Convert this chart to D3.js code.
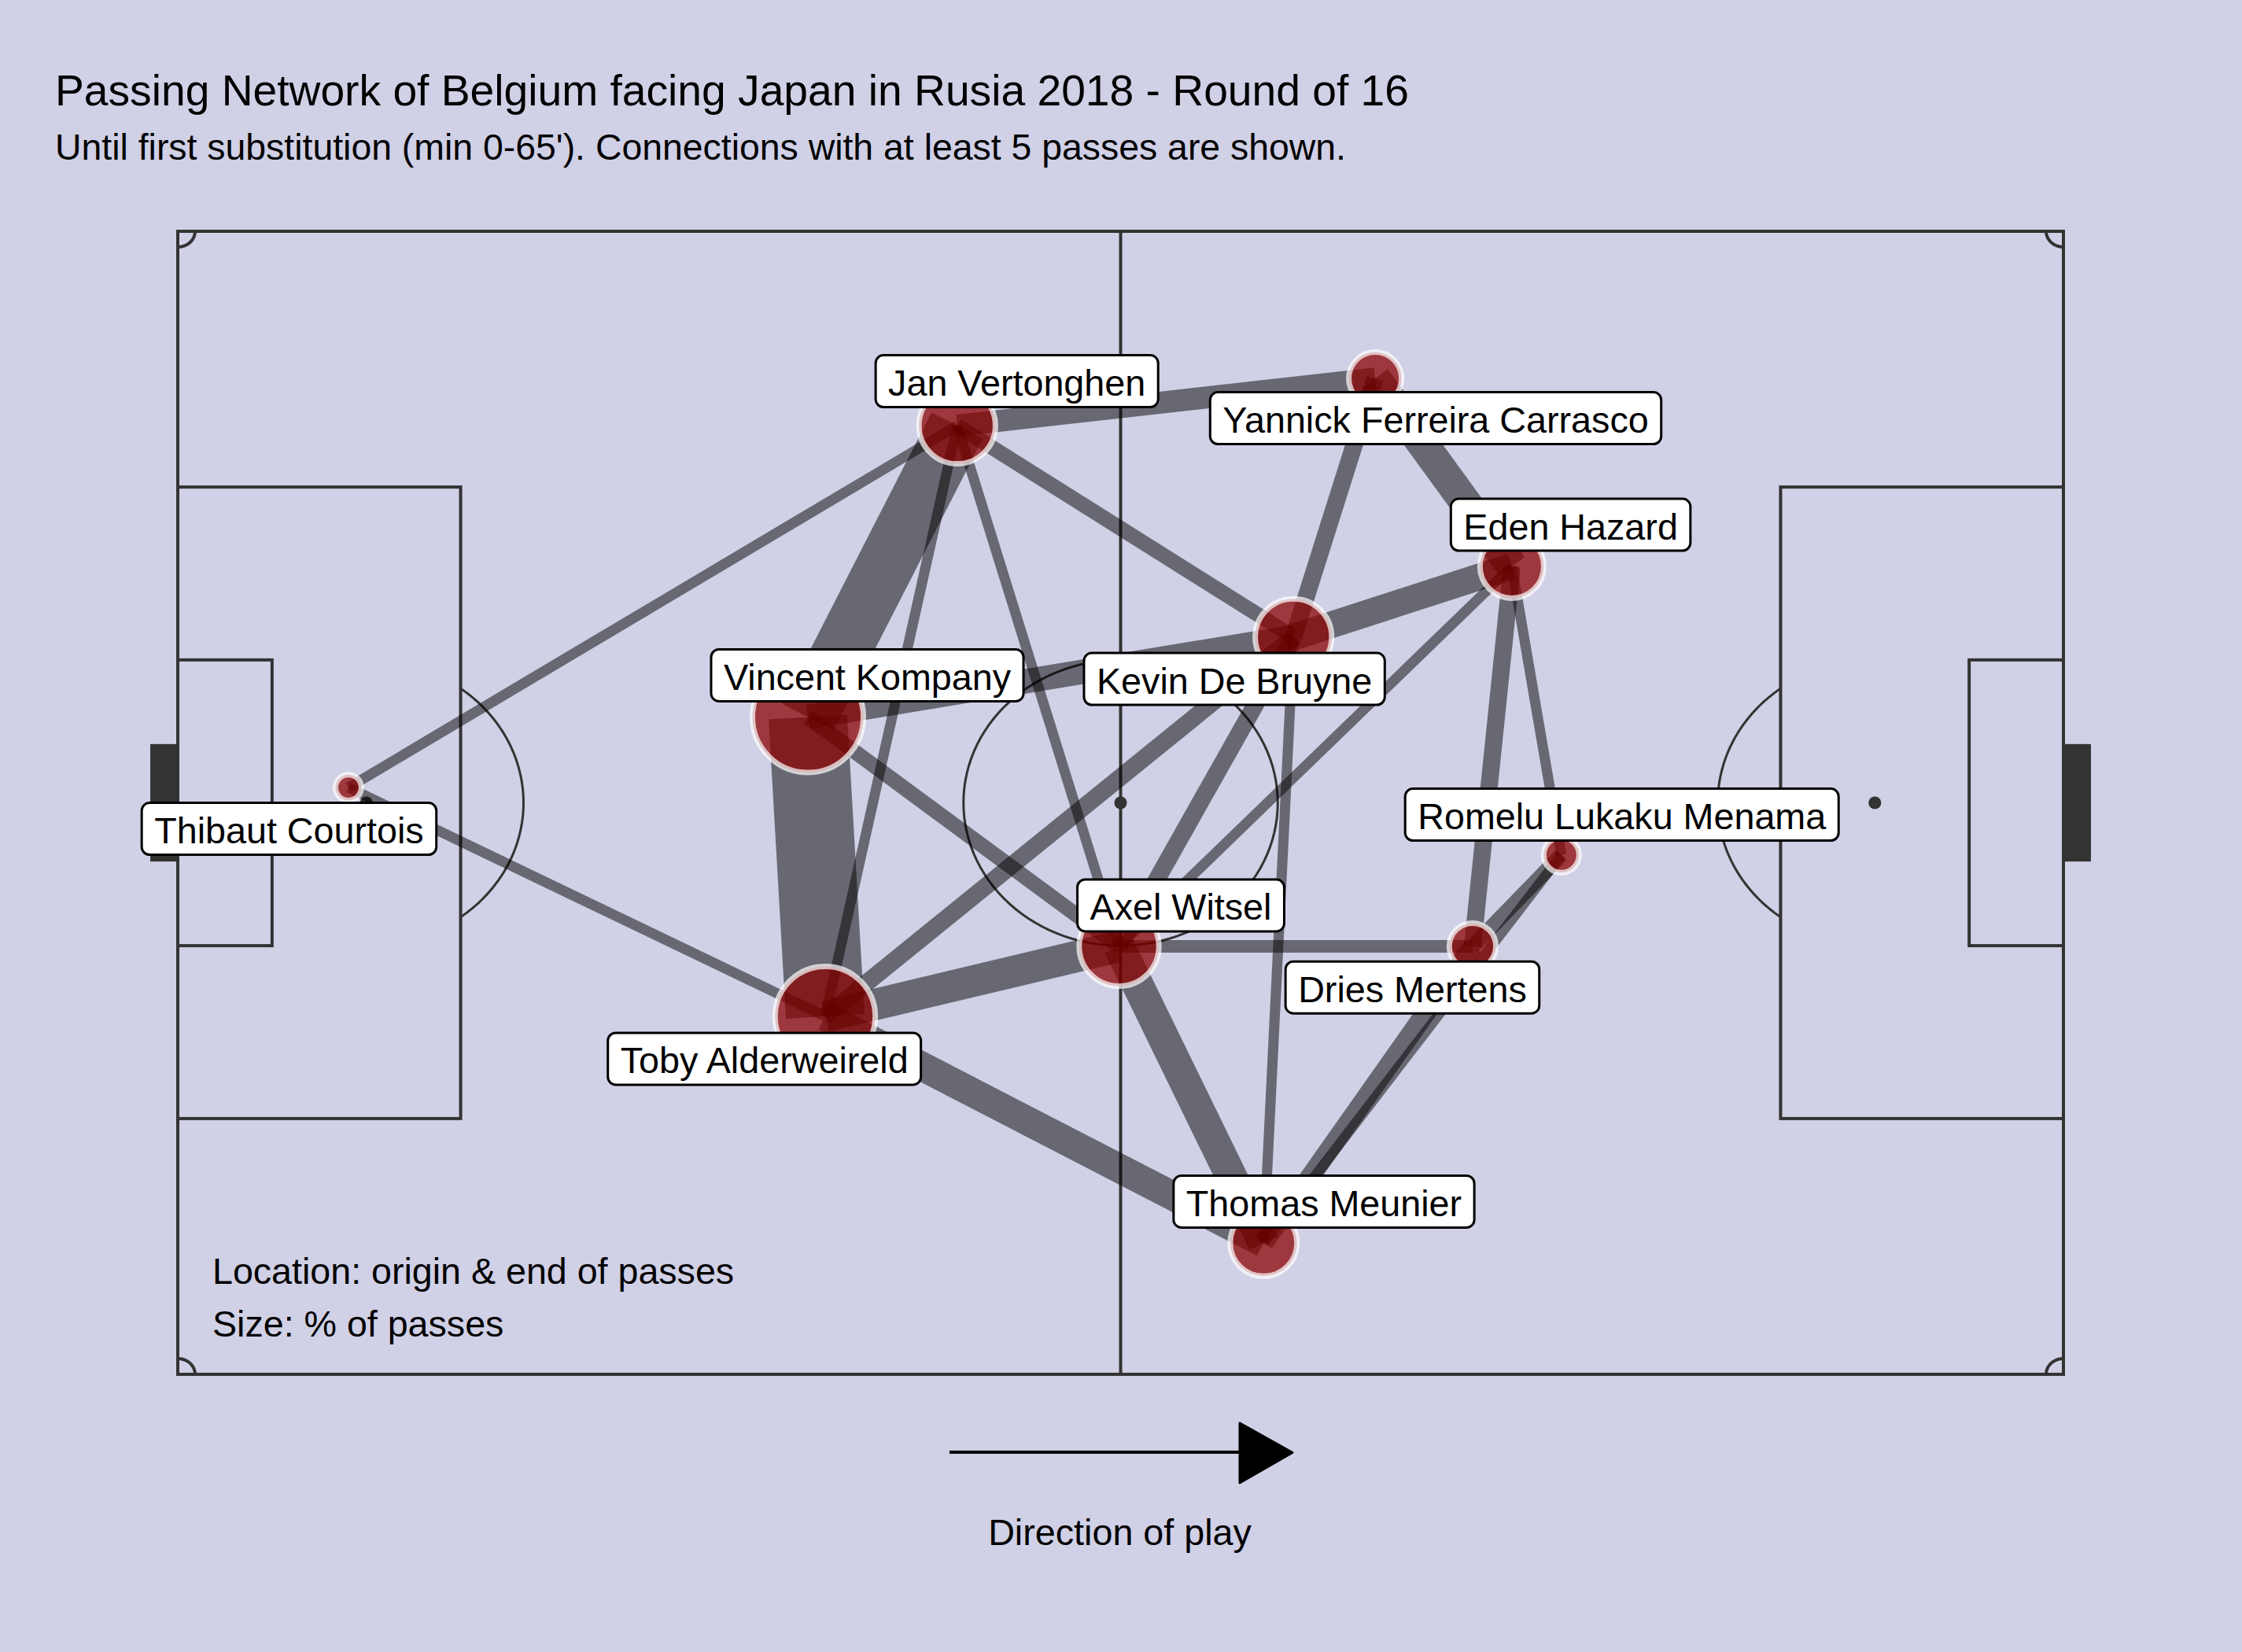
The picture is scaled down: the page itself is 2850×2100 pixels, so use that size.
<!DOCTYPE html>
<html>
<head>
<meta charset="utf-8">
<script src="https://d3js.org/d3.v7.min.js"></script>
<style>
html,body{margin:0;padding:0;background:#D0D0E6;}
svg{display:block;}
text{font-family:"Liberation Sans",Arial,sans-serif;fill:#000;}
</style>
</head>
<body>
<svg id="chart" width="2850" height="2100"></svg>
<script>
// ---- data (pitch coordinates 120 x 80) ----
const players = ["Thibaut Courtois","Jan Vertonghen","Yannick Ferreira Carrasco","Eden Hazard","Kevin De Bruyne","Vincent Kompany","Toby Alderweireld","Axel Witsel","Dries Mertens","Romelu Lukaku Menama","Thomas Meunier"];
const playerX = [10.86,49.6,76.2,84.9,71.0,40.1,41.2,59.9,82.4,88.05,69.1];
const playerY = [38.93,13.6,10.3,23.45,28.4,34.0,54.95,50.05,50.05,43.65,70.8];
const passShare = [1.2,10.5,5.0,7.3,10.5,22.1,18.0,11.4,3.9,2.25,8.0];

const edgeFrom = ["Thibaut Courtois","Thibaut Courtois","Jan Vertonghen","Jan Vertonghen","Jan Vertonghen","Jan Vertonghen","Jan Vertonghen","Yannick Ferreira Carrasco","Yannick Ferreira Carrasco","Kevin De Bruyne","Kevin De Bruyne","Kevin De Bruyne","Kevin De Bruyne","Kevin De Bruyne","Eden Hazard","Eden Hazard","Eden Hazard","Vincent Kompany","Vincent Kompany","Toby Alderweireld","Toby Alderweireld","Axel Witsel","Axel Witsel","Thomas Meunier","Thomas Meunier","Dries Mertens"];
const edgeTo   = ["Jan Vertonghen","Toby Alderweireld","Vincent Kompany","Toby Alderweireld","Axel Witsel","Kevin De Bruyne","Yannick Ferreira Carrasco","Eden Hazard","Kevin De Bruyne","Eden Hazard","Vincent Kompany","Toby Alderweireld","Axel Witsel","Thomas Meunier","Axel Witsel","Dries Mertens","Romelu Lukaku Menama","Toby Alderweireld","Axel Witsel","Axel Witsel","Thomas Meunier","Thomas Meunier","Dries Mertens","Dries Mertens","Romelu Lukaku Menama","Romelu Lukaku Menama"];
const edgePasses = [5,5,25,5,5,7,10,14,8,12,11,8,8,5,5,8,5,34,7,14,13,14,6,9,5,7];

const labelX = [7.08,53.4,80.05,88.64,67.24,43.88,37.33,63.83,78.57,91.9,72.94];
const labelY = [41.82,10.49,13.08,20.54,31.33,31.08,57.92,47.18,52.92,40.83,67.91];

const titleText = "Passing Network of Belgium facing Japan in Rusia 2018 - Round of 16";
const subtitleText = "Until first substitution (min 0-65'). Connections with at least 5 passes are shown.";
const noteLines = ["Location: origin & end of passes","Size: % of passes"];
const directionText = "Direction of play";

// ---- scales ----
const x = d3.scaleLinear().domain([0,120]).range([226,2623]);
const y = d3.scaleLinear().domain([0,80]).range([294,1747]);
const edgeWidth = d3.scaleLinear().domain([5,34]).range([13,100]);
const nodeRadius = d3.scaleSqrt().domain([0,100]).range([0,150]);

const svg = d3.select("#chart");
const bg = "#D0D0E6", lineCol = "#333333";
svg.append("rect").attr("width",2850).attr("height",2100).attr("fill",bg);

// ---- pitch ----
const pitch = svg.append("g").attr("fill","none").attr("stroke",lineCol).attr("stroke-width",4);
function box(x0,x1,y0,y1){
  pitch.append("rect").attr("x",x(x0)).attr("y",y(y0)).attr("width",x(x1)-x(x0)).attr("height",y(y1)-y(y0));
}
box(0,120,0,80);
box(0,18,17.9,62.1); box(102,120,17.9,62.1);
box(0,6,30,50); box(114,120,30,50);
pitch.append("line").attr("x1",x(60)).attr("x2",x(60)).attr("y1",y(0)).attr("y2",y(80));
[[-1.65,0],[120,121.65]].forEach(g=>{
  pitch.append("rect").attr("x",x(g[0])).attr("y",y(36)).attr("width",x(g[1])-x(g[0])).attr("height",y(44)-y(36)).attr("fill",lineCol);
});
const arcPath = d3.line().x(d=>x(d[0])).y(d=>y(d[1]));
function arc(cx,cy,r,a0,a1,w){
  const pts = d3.range(0,121).map(i=>{
    const t = a0+(a1-a0)*i/120;
    return [cx+r*Math.cos(t),cy+r*Math.sin(t)];
  });
  pitch.append("path").attr("d",arcPath(pts)).attr("stroke-width",w);
}
const pa = Math.acos(0.6);
arc(12,40,10,-pa,pa,3);
arc(108,40,10,Math.PI-pa,Math.PI+pa,3);
arc(60,40,10,0,2*Math.PI,3);
[[0,0,0],[120,0,Math.PI/2],[120,80,Math.PI],[0,80,3*Math.PI/2]].forEach(c=>{
  arc(c[0],c[1],1.1,c[2],c[2]+Math.PI/2,4);
});
[[12,40],[60,40],[108,40]].forEach(s=>{
  svg.append("circle").attr("cx",x(s[0])).attr("cy",y(s[1])).attr("r",8).attr("fill",lineCol);
});

// ---- edges ----
const idx = n => players.indexOf(n);
const edgeData = edgeFrom.map((f,i)=>({a:idx(f),b:idx(edgeTo[i]),p:edgePasses[i]}));
svg.append("g").selectAll("line").data(edgeData).join("line")
  .attr("x1",d=>x(playerX[d.a])).attr("y1",d=>y(playerY[d.a]))
  .attr("x2",d=>x(playerX[d.b])).attr("y2",d=>y(playerY[d.b]))
  .attr("stroke","#000").attr("stroke-opacity",0.5)
  .attr("stroke-width",d=>edgeWidth(d.p));

// ---- nodes ----
svg.append("g").selectAll("circle").data(players).join("circle")
  .attr("cx",(d,i)=>x(playerX[i])).attr("cy",(d,i)=>y(playerY[i]))
  .attr("r",(d,i)=>nodeRadius(passShare[i]))
  .attr("fill","#8B0000").attr("fill-opacity",0.73)
  .attr("stroke","#fff").attr("stroke-opacity",0.7).attr("stroke-width",7);

// ---- labels ----
const labelFont = 46.7;
const lg = svg.append("g").selectAll("g").data(players).join("g")
  .attr("transform",(d,i)=>`translate(${x(labelX[i])},${y(labelY[i])})`);
const boxes = lg.append("rect").attr("fill","#fff").attr("stroke","#000").attr("stroke-width",3).attr("rx",10).attr("ry",10);
const txt = lg.append("text").attr("text-anchor","middle").attr("y",18.5).attr("font-size",labelFont).text(d=>d);
txt.each(function(){
  const w = this.getComputedTextLength()+32;
  d3.select(this.parentNode).select("rect").attr("x",-w/2).attr("y",-33).attr("width",w).attr("height",66);
});

// ---- titles and notes ----
svg.append("text").attr("x",70).attr("y",134).attr("font-size",55.2).text(titleText);
svg.append("text").attr("x",70).attr("y",203).attr("font-size",46.4).text(subtitleText);
noteLines.forEach((t,i)=>{
  svg.append("text").attr("x",270).attr("y",1631.5+i*67).attr("font-size",46.6).text(t);
});
svg.append("text").attr("x",1423.5).attr("y",1964).attr("text-anchor","middle").attr("font-size",46.7).text(directionText);

// ---- direction arrow ----
svg.append("line").attr("x1",1207).attr("x2",1580).attr("y1",1846).attr("y2",1846).attr("stroke","#000").attr("stroke-width",4);
svg.append("path").attr("d",d3.line()([[1576,1809],[1643,1846.5],[1576,1885]])+"Z").attr("fill","#000").attr("stroke","#000").attr("stroke-width",3).attr("stroke-linejoin","round");
</script>
</body>
</html>
